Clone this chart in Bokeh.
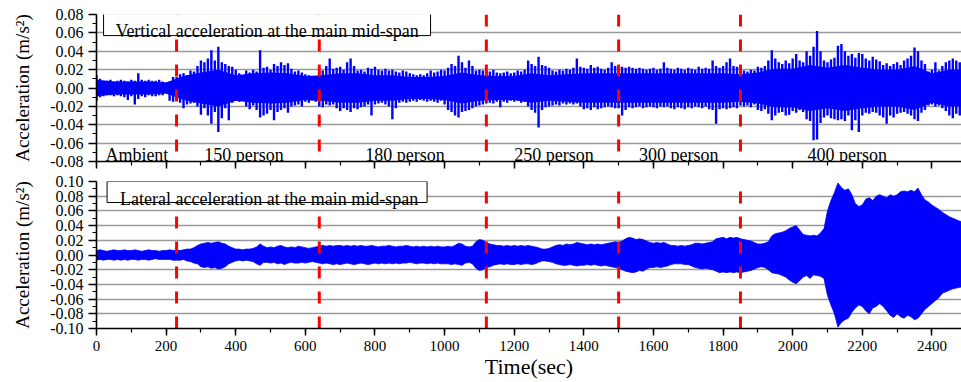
from bokeh.plotting import figure
from bokeh.layouts import column
from bokeh.models import Range1d, SingleIntervalTicker, FixedTicker, PrintfTickFormatter, CustomJSTickFormatter
from bokeh.core.properties import value
from bokeh.embed import file_html
from bokeh.resources import INLINE

# sample times (s), one peak-envelope reading every 10 s
time_s = list(range(0, 2500, 10))
# coarse times (s) for the dense core of the vertical record, every 50 s
core_time_s = list(range(0, 2550, 50))

# Vertical acceleration: upper / lower peak envelope (m/s^2)
vert_upper = [
    .014, .010, .008, .008, .009, .007, .008, .009, .008, .007,
    .009, .008, .016, .009, .008, .009, .008, .008, .009, .007,
    .006, .007, .012, .012, .015, .016, .014, .019, .018, .024,
    .030, .028, .032, .041, .030, .045, .028, .026, .024, .023,
    .020, .016, .013, .019, .017, .020, .018, .041, .022, .023,
    .020, .026, .024, .028, .025, .027, .021, .018, .019, .017,
    .015, .014, .013, .012, .018, .019, .024, .032, .021, .022,
    .023, .020, .028, .032, .024, .019, .020, .018, .022, .021,
    .023, .020, .019, .021, .019, .020, .018, .017, .019, .018,
    .016, .015, .014, .015, .014, .016, .019, .017, .018, .020,
    .019, .022, .026, .024, .035, .028, .022, .030, .024, .019,
    .020, .019, .019, .018, .020, .017, .016, .017, .018, .016,
    .017, .019, .018, .020, .030, .026, .024, .034, .025, .024,
    .022, .019, .018, .020, .019, .021, .020, .022, .032, .023,
    .022, .021, .025, .022, .023, .021, .020, .022, .028, .024,
    .024, .023, .022, .023, .022, .021, .022, .021, .020, .021,
    .022, .020, .021, .028, .022, .021, .020, .022, .021, .020,
    .022, .021, .020, .023, .021, .022, .021, .030, .024, .022,
    .024, .028, .032, .024, .023, .020, .019, .018, .020, .019,
    .023, .022, .024, .030, .041, .032, .028, .026, .030, .027,
    .032, .037, .030, .028, .040, .035, .045, .062, .040, .030,
    .028, .031, .033, .046, .048, .040, .035, .037, .033, .038,
    .037, .032, .030, .034, .031, .029, .025, .027, .024, .026,
    .028, .025, .030, .032, .035, .044, .040, .030, .026, .018,
    .020, .028, .019, .024, .028, .030, .032, .030, .028, .029,
]
vert_lower = [
    -.014, -.010, -.009, -.008, -.008, -.009, -.008, -.009, -.010, -.013,
    -.009, -.018, -.012, -.009, -.010, -.008, -.009, -.009, -.008, -.008,
    -.006, -.014, -.015, -.014, -.016, -.022, -.018, -.017, -.016, -.020,
    -.029, -.022, -.030, -.039, -.026, -.048, -.033, -.022, -.035, -.016,
    -.014, -.015, -.014, -.020, -.023, -.019, -.024, -.032, -.030, -.028,
    -.024, -.035, -.026, -.024, -.022, -.027, -.020, -.019, -.018, -.020,
    -.015, -.016, -.014, -.015, -.020, -.021, -.018, -.019, -.018, -.022,
    -.025, -.022, -.024, -.026, -.022, -.023, -.021, -.020, -.018, -.030,
    -.018, -.017, -.016, -.018, -.020, -.034, -.022, -.016, -.015, -.016,
    -.015, -.014, -.015, -.013, -.014, -.015, -.014, -.015, -.016, -.014,
    -.018, -.024, -.026, -.030, -.032, -.026, -.025, -.024, -.022, -.020,
    -.019, -.018, -.017, -.016, -.017, -.015, -.021, -.015, -.016, -.014,
    -.015, -.014, -.016, -.015, -.020, -.024, -.027, -.043, -.024, -.021,
    -.020, -.019, -.018, -.019, -.017, -.018, -.017, -.018, -.017, -.020,
    -.023, -.022, -.024, -.021, -.023, -.022, -.021, -.020, -.021, -.022,
    -.022, -.030, -.024, -.021, -.022, -.021, -.020, -.022, -.021, -.020,
    -.021, -.022, -.020, -.021, -.020, -.022, -.023, -.021, -.022, -.023,
    -.021, -.022, -.020, -.021, -.022, -.020, -.023, -.024, -.039, -.023,
    -.022, -.023, -.022, -.021, -.022, -.019, -.020, -.019, -.021, -.018,
    -.024, -.025, -.023, -.028, -.035, -.030, -.027, -.026, -.030, -.029,
    -.025, -.027, -.024, -.026, -.034, -.036, -.057, -.056, -.038, -.032,
    -.030, -.033, -.034, -.035, -.034, -.036, -.030, -.046, -.035, -.048,
    -.030, -.027, -.028, -.026, -.027, -.030, -.032, -.039, -.030, -.032,
    -.028, -.027, -.026, -.028, -.030, -.034, -.036, -.027, -.024, -.019,
    -.018, -.020, -.019, -.022, -.025, -.030, -.033, -.028, -.030, -.027,
]
# Vertical acceleration: dense core band (m/s^2), read every 50 s
vert_core_upper = [
    .009, .007, .007, .007, .006, .013, .017, .020, .014, .016,
    .017, .016, .013, .014, .016, .016, .014, .014, .012, .012,
    .013, .017, .014, .013, .013, .016, .014, .015, .016, .016,
    .016, .016, .016, .016, .016, .016, .016, .015, .017, .021,
    .021, .025, .022, .025, .022, .020, .020, .024, .016, .020,
    .020,
]
vert_core_lower = [
    -.009, -.007, -.007, -.007, -.006, -.013, -.017, -.020, -.014, -.016,
    -.017, -.016, -.013, -.014, -.016, -.016, -.014, -.014, -.012, -.012,
    -.013, -.017, -.014, -.013, -.013, -.016, -.014, -.015, -.016, -.016,
    -.016, -.016, -.016, -.016, -.016, -.016, -.016, -.015, -.017, -.021,
    -.021, -.025, -.022, -.025, -.022, -.020, -.020, -.024, -.016, -.020,
    -.020,
]

# Lateral acceleration: upper / lower peak envelope (m/s^2)
lat_upper = [
    .006, .007, .006, .005, .006, .007, .006, .006, .007, .006,
    .006, .007, .006, .005, .006, .007, .006, .006, .005, .006,
    .006, .007, .006, .007, .006, .007, .008, .008, .010, .013,
    .015, .016, .017, .016, .017, .018, .016, .015, .012, .010,
    .008, .008, .007, .008, .008, .009, .011, .015, .012, .010,
    .011, .010, .012, .013, .011, .010, .011, .010, .012, .011,
    .010, .009, .010, .011, .012, .013, .012, .013, .012, .013,
    .013, .012, .013, .012, .013, .012, .013, .012, .012, .013,
    .012, .011, .012, .012, .013, .012, .011, .012, .012, .013,
    .012, .011, .012, .011, .012, .011, .012, .011, .012, .011,
    .011, .012, .011, .013, .016, .015, .012, .011, .012, .018,
    .021, .020, .017, .015, .014, .013, .013, .012, .013, .012,
    .013, .012, .013, .012, .013, .012, .011, .010, .008, .008,
    .009, .011, .013, .014, .013, .015, .014, .015, .017, .016,
    .015, .014, .015, .014, .015, .014, .015, .016, .017, .018,
    .017, .019, .022, .024, .023, .021, .022, .021, .019, .017,
    .016, .017, .016, .017, .015, .013, .013, .012, .013, .012,
    .013, .014, .016, .016, .015, .016, .017, .018, .022, .023,
    .024, .022, .024, .023, .024, .022, .021, .020, .019, .017,
    .015, .015, .016, .018, .026, .029, .030, .031, .033, .036,
    .038, .040, .034, .028, .027, .026, .027, .026, .030, .036,
    .060, .074, .085, .098, .092, .088, .090, .082, .070, .066,
    .068, .076, .078, .074, .080, .082, .080, .078, .082, .080,
    .082, .086, .087, .086, .088, .086, .091, .082, .075, .072,
    .068, .065, .062, .058, .055, .052, .050, .048, .046, .045,
]
lat_lower = [
    -.007, -.006, -.007, -.006, -.006, -.007, -.006, -.007, -.006, -.007,
    -.006, -.006, -.007, -.006, -.006, -.007, -.006, -.005, -.006, -.006,
    -.006, -.006, -.007, -.007, -.007, -.006, -.008, -.009, -.011, -.012,
    -.016, -.017, -.016, -.018, -.017, -.019, -.018, -.016, -.012, -.010,
    -.008, -.007, -.008, -.007, -.008, -.009, -.012, -.014, -.010, -.010,
    -.011, -.010, -.012, -.011, -.013, -.011, -.010, -.011, -.011, -.010,
    -.011, -.010, -.009, -.010, -.011, -.012, -.011, -.012, -.013, -.012,
    -.013, -.012, -.011, -.012, -.013, -.012, -.011, -.012, -.013, -.012,
    -.011, -.012, -.011, -.012, -.011, -.012, -.011, -.012, -.011, -.011,
    -.010, -.011, -.012, -.011, -.011, -.012, -.011, -.012, -.011, -.012,
    -.012, -.012, -.013, -.012, -.013, -.014, -.011, -.010, -.012, -.018,
    -.021, -.020, -.017, -.016, -.014, -.013, -.012, -.013, -.012, -.013,
    -.013, -.012, -.013, -.012, -.012, -.013, -.012, -.010, -.008, -.008,
    -.009, -.010, -.012, -.013, -.014, -.014, -.013, -.014, -.015, -.014,
    -.014, -.013, -.014, -.013, -.014, -.015, -.014, -.015, -.016, -.017,
    -.018, -.020, -.022, -.023, -.024, -.023, -.021, -.022, -.019, -.017,
    -.017, -.016, -.017, -.016, -.015, -.013, -.012, -.012, -.012, -.013,
    -.013, -.015, -.017, -.018, -.019, -.018, -.019, -.020, -.022, -.024,
    -.023, -.024, -.023, -.024, -.023, -.024, -.023, -.022, -.021, -.019,
    -.017, -.016, -.017, -.020, -.024, -.025, -.026, -.028, -.030, -.034,
    -.037, -.039, -.035, -.030, -.028, -.032, -.027, -.028, -.029, -.032,
    -.055, -.068, -.080, -.098, -.092, -.088, -.086, -.078, -.072, -.068,
    -.070, -.076, -.080, -.072, -.070, -.066, -.070, -.076, -.082, -.085,
    -.080, -.084, -.086, -.082, -.084, -.088, -.086, -.080, -.074, -.070,
    -.066, -.062, -.058, -.052, -.050, -.048, -.046, -.045, -.044, -.043,
]

event_times = [230, 640, 1120, 1500, 1850]
phase_names = ["Ambient", "150 person", "180 person", "250 person", "300 person", "400 person"]
phase_centers = [116, 424, 886, 1314, 1673, 2157]

FONT = "Liberation Serif"
X_END = 2485
BLUE = "#0000ff"


def style(p, ymin, ymax, show_xlabels):
    p.outline_line_color = None
    p.background_fill_color = "white"
    p.border_fill_color = "white"
    p.xgrid.visible = False
    n_lo = int(round(ymin / 0.02)) + 1
    n_hi = int(round(ymax / 0.02))
    p.ygrid.ticker = FixedTicker(ticks=[round(k * 0.02, 2) for k in range(n_lo, n_hi)])
    p.ygrid.grid_line_color = "#9a9a9a"
    p.ygrid.grid_line_width = 1.3
    ya = p.yaxis[0]
    ya.ticker = SingleIntervalTicker(interval=0.02, num_minor_ticks=2)
    ya.formatter = PrintfTickFormatter(format="%.2f")
    ya.axis_label = "Acceleration (m/s²)"
    ya.axis_label_text_font = FONT
    ya.axis_label_text_font_size = "19px"
    ya.axis_label_text_font_style = "normal"
    ya.axis_label_text_color = "black"
    ya.axis_label_standoff = 14
    ya.major_label_text_font = FONT
    ya.major_label_text_font_size = "16px"
    ya.major_label_text_color = "black"
    ya.major_label_standoff = 5
    xa = p.xaxis[0]
    xa.ticker = SingleIntervalTicker(interval=200, num_minor_ticks=2)
    for ax in (xa, ya):
        ax.axis_line_color = "black"
        ax.axis_line_width = 1.6
        ax.major_tick_line_color = "black"
        ax.major_tick_line_width = 1.5
        ax.minor_tick_line_color = "black"
        ax.minor_tick_line_width = 1.2
        ax.major_tick_in = 0
        ax.minor_tick_in = 0
        ax.minor_tick_out = 4
    ya.major_tick_out = 8
    xa.major_tick_out = 7
    if show_xlabels:
        xa.major_label_text_font = FONT
        xa.major_label_text_font_size = "15px"
        xa.major_label_text_color = "black"
        xa.major_label_standoff = 5
        xa.axis_label = "Time(sec)"
        xa.axis_label_text_font = FONT
        xa.axis_label_text_font_size = "22px"
        xa.axis_label_text_font_style = "normal"
        xa.axis_label_text_color = "black"
        xa.axis_label_standoff = 0
    else:
        xa.formatter = CustomJSTickFormatter(code="return '';")
        xa.major_label_text_font_size = "1px"
        xa.major_label_standoff = 0


# ---------- top panel: vertical ----------
p1 = figure(width=961, height=170, x_range=Range1d(0, X_END), y_range=Range1d(-0.08, 0.08),
            output_backend="svg", toolbar_location=None,
            min_border_left=96, min_border_right=0, min_border_top=14, min_border_bottom=9)
style(p1, -0.08, 0.08, False)
p1.varea(x=core_time_s, y1=vert_core_lower, y2=vert_core_upper, fill_color=BLUE)
p1.segment(x0=time_s, y0=vert_lower, x1=time_s, y1=vert_upper, line_color=BLUE, line_width=2.4)
p1.segment(x0=event_times, y0=[0.08] * len(event_times), x1=event_times, y1=[-0.08] * len(event_times),
           line_color="#ff0000", line_width=3, line_dash="12 13")
p1.rect(x=[490], y=[0.069], width=[327], height=[22], width_units="screen", height_units="screen",
        fill_color="white", line_color="black", line_width=1)
p1.text(x=[490], y=[0.0618], text=["Vertical acceleration at the main mid-span"],
        text_font=value(FONT), text_font_size=value("18px"), text_color="black",
        text_align="center", text_baseline="alphabetic")
p1.text(x=phase_centers, y=[-0.0727] * len(phase_centers), text=phase_names,
        text_font=value(FONT), text_font_size=value("18px"), text_color="black",
        text_align="center", text_baseline="alphabetic")

# ---------- bottom panel: lateral ----------
p2 = figure(width=961, height=212, x_range=Range1d(0, X_END), y_range=Range1d(-0.10, 0.10),
            output_backend="svg", toolbar_location=None,
            min_border_left=96, min_border_right=0, min_border_top=11, min_border_bottom=54)
style(p2, -0.10, 0.10, True)
p2.varea(x=time_s, y1=lat_lower, y2=lat_upper, fill_color=BLUE)
p2.line(x=time_s, y=lat_upper, line_color=BLUE, line_width=0.8)
p2.line(x=time_s, y=lat_lower, line_color=BLUE, line_width=0.8)
p2.segment(x0=event_times, y0=[-0.10] * len(event_times), x1=event_times, y1=[0.10] * len(event_times),
           line_color="#ff0000", line_width=3, line_dash="12 13")
p2.rect(x=[490], y=[0.0857], width=[320], height=[21], width_units="screen", height_units="screen",
        fill_color="white", line_color="black", line_width=1)
p2.text(x=[496], y=[0.0764], text=["Lateral acceleration at the main mid-span"],
        text_font=value(FONT), text_font_size=value("18px"), text_color="black",
        text_align="center", text_baseline="alphabetic")

layout = column(p1, p2)
open("out.html", "w").write(file_html(layout, INLINE))
